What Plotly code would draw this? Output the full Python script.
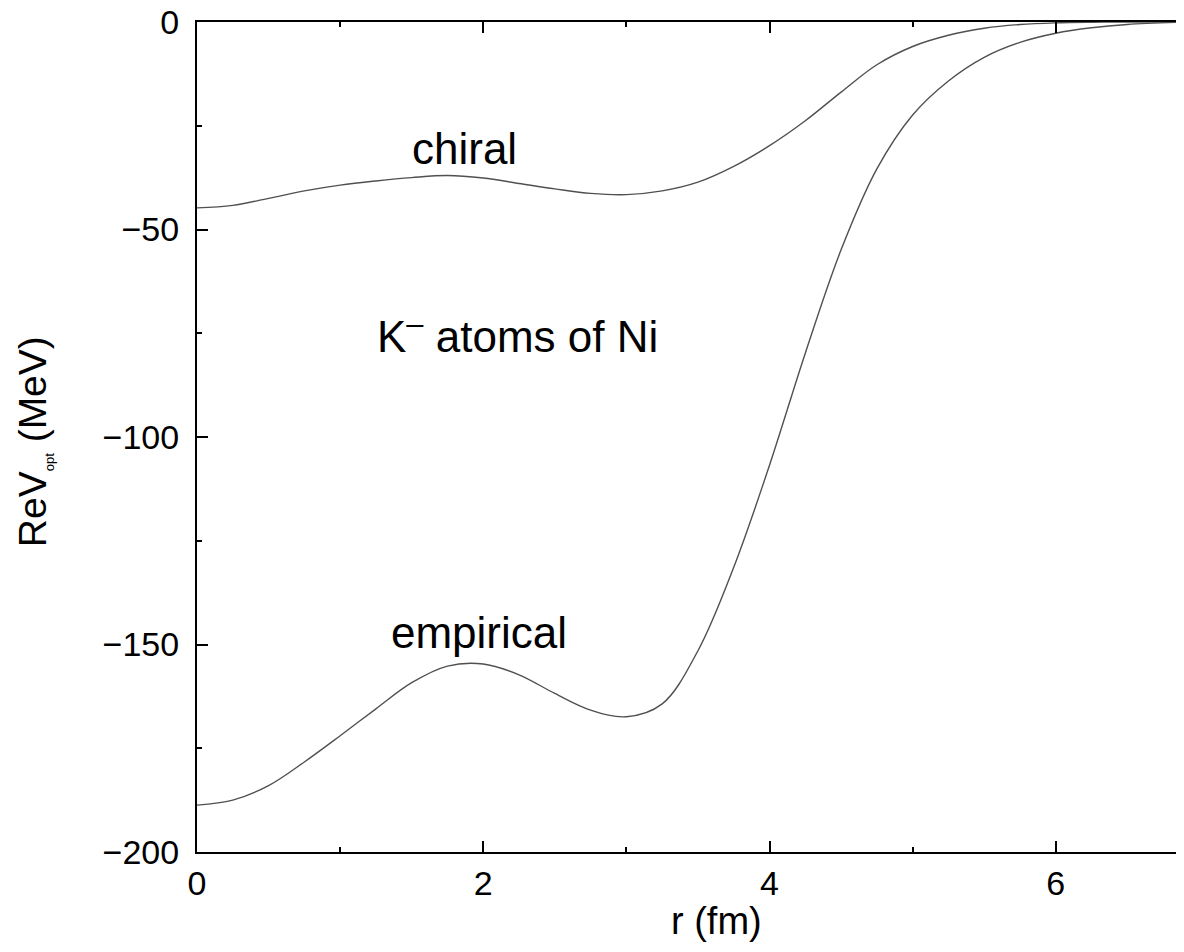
import plotly.graph_objects as go

r_vals = [0.0, 0.25, 0.5, 0.75, 1.0, 1.25, 1.5, 1.75, 2.0, 2.25, 2.5, 2.75, 3.0, 3.25, 3.5,
          3.75, 4.0, 4.25, 4.5, 4.75, 5.0, 5.25, 5.5, 5.75, 6.0, 6.25, 6.5, 6.84]

# chiral ReV_opt (MeV)
chiral_v = [-44.8, -44.2, -42.5, -40.7, -39.3, -38.3, -37.5, -37.0, -37.6, -38.9, -40.2, -41.3, -41.6, -40.7, -38.6,
            -34.8, -29.8, -23.8, -16.9, -10.3, -5.9, -3.2, -1.5, -0.6, -0.2, -0.05, 0.0, 0.0]

# empirical ReV_opt (MeV)
emp_v = [-188.7, -187.5, -184.0, -178.3, -172.0, -165.5, -159.2, -155.2, -154.7, -157.3, -161.8, -165.8, -167.4, -164.3, -151.5,
         -131.4, -106.8, -79.8, -54.9, -35.4, -22.4, -14.2, -8.5, -4.9, -2.7, -1.4, -0.6, -0.1]

x_ticks = [0, 2, 4, 6]
y_ticks = [0, -50, -100, -150, -200]

labels = ["chiral", "K<sup>\u2013</sup> atoms of Ni", "empirical"]
label_x = [1.87, 2.24, 1.97]
label_y = [-30.5, -75.0, -147.0]

FONT = "Liberation Sans, Arial, sans-serif"

fig = go.Figure()
line = dict(color="#505050", width=1.4, shape="spline", smoothing=1.0)
fig.add_trace(go.Scatter(x=r_vals, y=chiral_v, mode="lines", line=line, showlegend=False))
fig.add_trace(go.Scatter(x=r_vals, y=emp_v, mode="lines", line=line, showlegend=False))

for t, xx, yy in zip(labels, label_x, label_y):
    fig.add_annotation(x=xx, y=yy, xref="x", yref="y", text=t, showarrow=False,
                       font=dict(family=FONT, size=44, color="black"),
                       xanchor="center", yanchor="middle")

# axis titles
fig.add_annotation(x=3.63, y=-0.083, xref="x", yref="paper", text="r (fm)", showarrow=False,
                   font=dict(family=FONT, size=38, color="black"), xanchor="center", yanchor="middle")
fig.add_annotation(x=-0.1665, y=-101, xref="paper", yref="y",
                   text="ReV<sub><span style='font-size:13px'>opt</span></sub> (MeV)",
                   showarrow=False, textangle=-90,
                   font=dict(family=FONT, size=39, color="black"), xanchor="center", yanchor="middle")

fig.update_layout(
    width=1168, height=936,
    margin=dict(l=189, r=0, t=14, b=92, autoexpand=False),
    paper_bgcolor="white", plot_bgcolor="white",
    font=dict(family=FONT, color="black"),
)
fig.update_xaxes(
    range=[0, 6.84], tickvals=x_ticks, ticktext=[str(v) for v in x_ticks],
    ticks="inside", ticklen=11, tickwidth=2, tickcolor="black",
    minor=dict(ticks="inside", ticklen=5, tickwidth=2, tickcolor="black", dtick=1, tick0=0, showgrid=False),
    showline=True, linecolor="black", linewidth=2, mirror="ticks",
    showgrid=False, zeroline=False, ticklabeloverflow="allow", automargin=False,
    tickfont=dict(family=FONT, size=34, color="black"), ticklabelstandoff=0,
)
fig.update_yaxes(
    range=[-200, 0], tickvals=y_ticks, ticktext=[str(v).replace("-", "\u2212") for v in y_ticks],
    ticks="inside", ticklen=11, tickwidth=2, tickcolor="black",
    minor=dict(ticks="inside", ticklen=5, tickwidth=2, tickcolor="black", dtick=25, tick0=0, showgrid=False),
    showline=True, linecolor="black", linewidth=2, mirror=False,
    showgrid=False, zeroline=False, ticklabeloverflow="allow", automargin=False,
    tickfont=dict(family=FONT, size=34, color="black"), ticklabelstandoff=9,
)

fig.write_html("out.html")
